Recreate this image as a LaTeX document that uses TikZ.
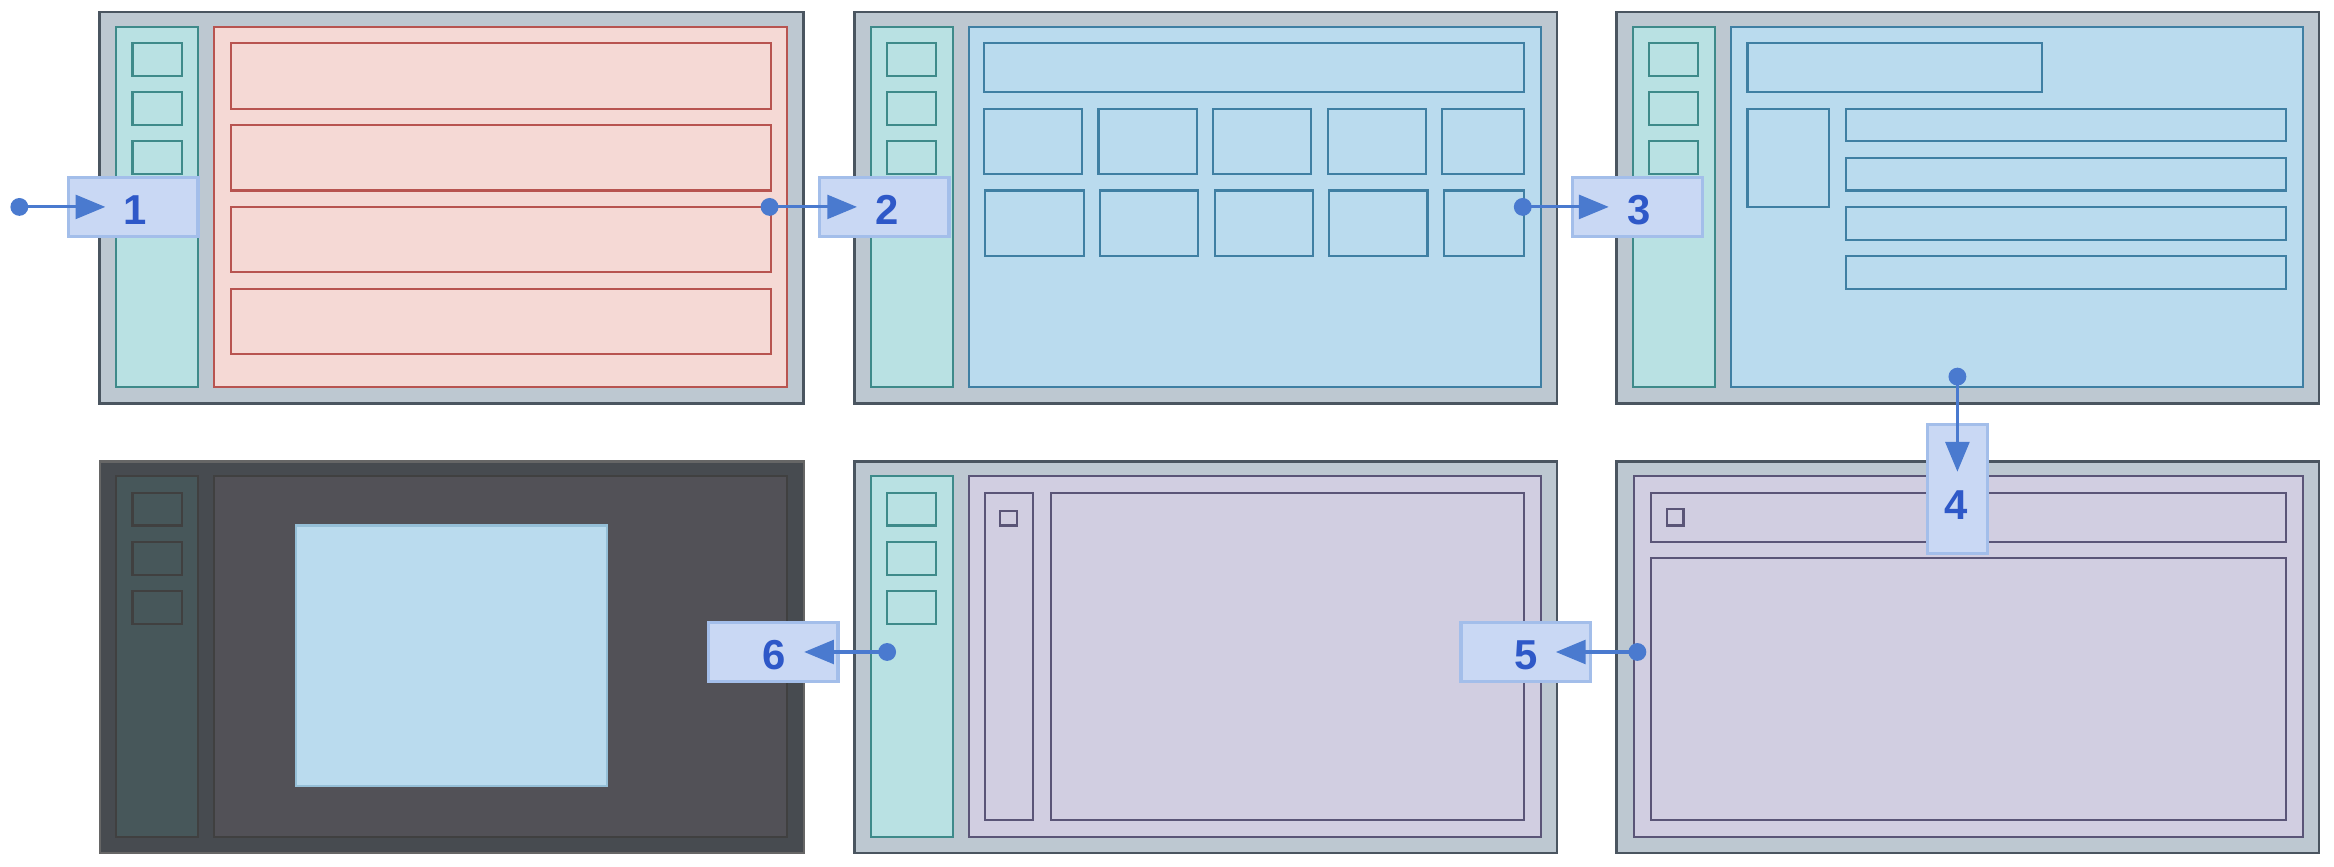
\documentclass[tikz,border=0pt]{standalone}
\usepackage{fontspec}
\setmainfont{Liberation Sans}
\usetikzlibrary{arrows.meta, positioning}
\definecolor{frameC}{HTML}{BDC8D1}
\definecolor{frameD}{HTML}{4A5560}
\definecolor{sideC}{HTML}{B9E1E3}
\definecolor{sideD}{HTML}{3E8A8A}
\definecolor{redC}{HTML}{F5D9D5}
\definecolor{redD}{HTML}{B85450}
\definecolor{blueC}{HTML}{BADBEE}
\definecolor{blueD}{HTML}{3F7FA3}
\definecolor{purpC}{HTML}{D1CEE1}
\definecolor{purpD}{HTML}{5A5577}
\definecolor{darkC}{HTML}{474B50}
\definecolor{darkSide}{HTML}{47575A}
\definecolor{darkMain}{HTML}{525157}
\definecolor{callC}{HTML}{C9D8F4}
\definecolor{callD}{HTML}{A3BEEA}
\definecolor{callT}{HTML}{2E58C8}
\definecolor{flowC}{HTML}{4A7ACF}
\tikzstyle{frame} = [draw=frameD, fill=frameC, line width=0.5pt]
\tikzstyle{side} = [draw=sideD, fill=sideC, line width=0.4pt]
\tikzstyle{redbox} = [draw=redD, fill=redC, line width=0.4pt]
\tikzstyle{bluebox} = [draw=blueD, fill=blueC, line width=0.4pt]
\tikzstyle{purpbox} = [draw=purpD, fill=purpC, line width=0.4pt]
\tikzstyle{darkbox} = [draw=black!75, line width=0.4pt]
\tikzstyle{callout} = [rectangle, draw=callD, fill=callC, line width=0.6pt, minimum width=8.7mm, minimum height=4mm, inner sep=0pt]
\tikzstyle{stepnum} = [text=callT, font=\fontsize{8}{9}\selectfont\bfseries]
\tikzstyle{flow} = [draw=flowC, line width=0.6pt, -{Triangle[length=2mm,width=1.6mm]}]
\tikzstyle{dot} = [fill=flowC]

\begin{document}
\begin{tikzpicture}[x=0.1mm, y=-0.1mm]
\useasboundingbox (0,0) rectangle (1568,582);

% Top row: list screen
\draw [frame] (67,8) rectangle (540,271);
\draw [side] (78,18) rectangle (133,260);
\foreach \y in {29,62,95} \draw [side] (89,\y) rectangle (122,\y+22);
\draw [redbox] (144,18) rectangle (529,260);
\foreach \y in {29,84,139,194} \draw [redbox] (155,\y) rectangle (518,\y+44);

% Top row: grid screen
\draw [frame] (574,8) rectangle (1046,271);
\draw [side] (585,18) rectangle (640,260);
\foreach \y in {29,62,95} \draw [side] (596,\y) rectangle (629,\y+22);
\draw [bluebox] (651,18) rectangle (1035,260);
\draw [bluebox] (661,29) rectangle (1024,62);
\foreach \x in {661,738,815,892} {
  \draw [bluebox] (\x,73) rectangle (\x+66,117);
  \draw [bluebox] (\x+1,128) rectangle (\x+67,172);
}
\draw [bluebox] (969,73) rectangle (1024,117);
\draw [bluebox] (970,128) rectangle (1024,172);

% Top row: detail screen
\draw [frame] (1086,8) rectangle (1558,271);
\draw [side] (1097,18) rectangle (1152,260);
\foreach \y in {29,62,95} \draw [side] (1108,\y) rectangle (1141,\y+22);
\draw [bluebox] (1163,18) rectangle (1547,260);
\draw [bluebox] (1174,29) rectangle (1372,62);
\draw [bluebox] (1174,73) rectangle (1229,139);
\foreach \y in {73,106,139,172} \draw [bluebox] (1240,\y) rectangle (1536,\y+22);

% Bottom row: viewer
\draw [darkbox, fill=darkC, draw=black!60] (67,310) rectangle (540,573);
\draw [darkbox, fill=darkSide] (78,320) rectangle (133,562);
\foreach \y in {331,364,397} \draw [darkbox, fill=darkSide] (89,\y) rectangle (122,\y+22);
\draw [darkbox, fill=darkMain] (144,320) rectangle (529,562);
\draw [bluebox, draw=blueC!70!blueD] (199,353) rectangle (408,528);

% Bottom row: editor
\draw [frame] (574,310) rectangle (1046,573);
\draw [side] (585,320) rectangle (640,562);
\foreach \y in {331,364,397} \draw [side] (596,\y) rectangle (629,\y+22);
\draw [purpbox] (651,320) rectangle (1035,562);
\draw [purpbox] (662,331) rectangle (694,551);
\draw [purpbox] (672,343) rectangle (683,353);
\draw [purpbox] (706,331) rectangle (1024,551);

% Bottom row: dialog
\draw [frame] (1086,310) rectangle (1558,573);
\draw [purpbox] (1098,320) rectangle (1547,562);
\draw [purpbox] (1109,331) rectangle (1536,364);
\draw [purpbox] (1120,342) rectangle (1131,353);
\draw [purpbox] (1109,375) rectangle (1536,551);

% Steps
\node (c1) [callout] at (89.5,139) {};
\node (c2) [callout] at (594,139) {};
\node (c3) [callout] at (1100,139) {};
\node (c4) [callout, minimum width=4mm, minimum height=8.7mm] at (1315,328.5) {};
\node (c5) [callout] at (1025,438) {};
\node (c6) [callout] at (519.5,438) {};
\node (n1) [stepnum] at (91,141) {1};
\node (n2) [stepnum] at (596,141) {2};
\node (n3) [stepnum] at (1101,141) {3};
\node (n4) [stepnum] at (1314,339) {4};
\node (n5) [stepnum] at (1025,440) {5};
\node (n6) [stepnum] at (520,440) {6};

\coordinate (s1) at (13,139);
\coordinate (s2) at (517,139);
\coordinate (s3) at (1023,139);
\coordinate (s4) at (1315,253);
\coordinate (s5) at (1100,438);
\coordinate (s6) at (596,438);
\foreach \s in {1,...,6} \fill [dot] (s\s) circle (6);

\draw [flow] (s1) -- (s1 -| n1.west);
\draw [flow] (s2) -- (s2 -| n2.west);
\draw [flow] (s3) -- (s3 -| n3.west);
\draw [flow] (s4) -- (s4 |- n4.north);
\draw [flow] (s5) -- (s5 -| n5.east);
\draw [flow] (s6) -- (s6 -| n6.east);

\end{tikzpicture}
\end{document}
